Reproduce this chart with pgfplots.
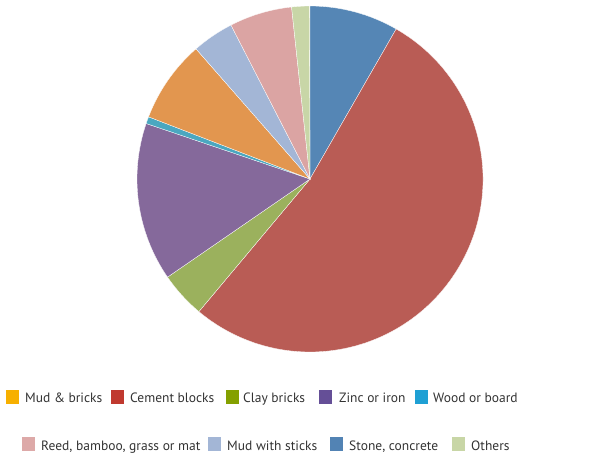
\documentclass[border=0pt]{standalone}
\usepackage{pgfplots}
\pgfplotsset{compat=1.18}
\usepackage{pgfplotstable}
\usepackage{fontspec}
\setmainfont{PT Sans}
\definecolor{cStone}{HTML}{5586B5}
\definecolor{cCement}{HTML}{B95C55}
\definecolor{cClay}{HTML}{9BB15D}
\definecolor{cZinc}{HTML}{85699B}
\definecolor{cWood}{HTML}{4BA7C0}
\definecolor{cMud}{HTML}{E2964F}
\definecolor{cSticks}{HTML}{A3B6D6}
\definecolor{cReed}{HTML}{DBA4A3}
\definecolor{cOthers}{HTML}{C8D6A7}
\definecolor{lMud}{HTML}{F7B000}
\definecolor{lCement}{HTML}{C0392F}
\definecolor{lClay}{HTML}{84A000}
\definecolor{lZinc}{HTML}{654F97}
\definecolor{lWood}{HTML}{1FA0D4}
\definecolor{lReed}{HTML}{DDA9A8}
\definecolor{lSticks}{HTML}{A3B6D6}
\definecolor{lStone}{HTML}{5283B4}
\definecolor{lOthers}{HTML}{C8D6A6}
\definecolor{txt}{HTML}{333333}
\pgfplotstableread{
name value col
Stone 8.3 cStone
Cement 52.8 cCement
Clay 4.3 cClay
Zinc 14.8 cZinc
Wood 0.65 cWood
Mud 7.7 cMud
Sticks 3.9 cSticks
Reed 5.85 cReed
Others 1.65 cOthers
}\piedata
\begin{document}
\begin{tikzpicture}[x=1pt,y=1pt]
\useasboundingbox (0pt,0pt) rectangle (608pt,459pt);
\begin{axis}[at={(310pt,280pt)},anchor=center,scale only axis,width=346pt,height=346pt,
  xmin=-1,xmax=1,ymin=-1,ymax=1,hide axis,clip=false]
\pgfplotsextra{
  \xdef\cum{0}
  \pgfplotsforeachungrouped \i in {0,...,8}{
    \pgfplotstablegetelem{\i}{value}\of\piedata \let\v=\pgfplotsretval
    \pgfplotstablegetelem{\i}{col}\of\piedata \let\c=\pgfplotsretval
    \pgfmathsetmacro{\sa}{90-3.6*\cum}
    \pgfmathsetmacro{\ea}{90-3.6*(\cum+\v)}
    \fill[fill=\c,draw=white,line width=0.3pt] (axis cs:0,0) -- ++(\sa:173pt) arc[start angle=\sa, end angle=\ea, radius=173pt] -- cycle;
    \pgfmathsetmacro{\newcum}{\cum+\v}
    \xdef\cum{\newcum}
  }
}
\end{axis}
\begin{scope}[every node/.style={anchor=base west,inner sep=0pt,text=txt,font=\fontsize{13.5}{16}\selectfont}]
% row 1
\fill[lMud] (6pt,55pt) rectangle (19pt,69.5pt);
\node at (25pt,56.3pt) {Mud \& bricks};
\fill[lCement] (111pt,55pt) rectangle (124pt,69.5pt);
\node at (130pt,56.3pt) {Cement blocks};
\fill[lClay] (226pt,55pt) rectangle (239pt,69.5pt);
\node at (243pt,56.3pt) {Clay bricks};
\fill[lZinc] (319pt,55pt) rectangle (332pt,69.5pt);
\node at (339pt,56.3pt) {Zinc or iron};
\fill[lWood] (415pt,55pt) rectangle (428pt,69.5pt);
\node at (433pt,56.3pt) {Wood or board};
% row 2
\fill[lReed] (22pt,8pt) rectangle (35pt,22.3pt);
\node at (41pt,9pt) {Reed, bamboo, grass or mat};
\fill[lSticks] (208pt,8pt) rectangle (221pt,22.3pt);
\node at (227pt,9pt) {Mud with sticks};
\fill[lStone] (330pt,8pt) rectangle (343pt,22.3pt);
\node at (349pt,9pt) {Stone, concrete};
\fill[lOthers] (452pt,8pt) rectangle (465pt,22.3pt);
\node at (471pt,9pt) {Others};
\end{scope}
\end{tikzpicture}
\end{document}
